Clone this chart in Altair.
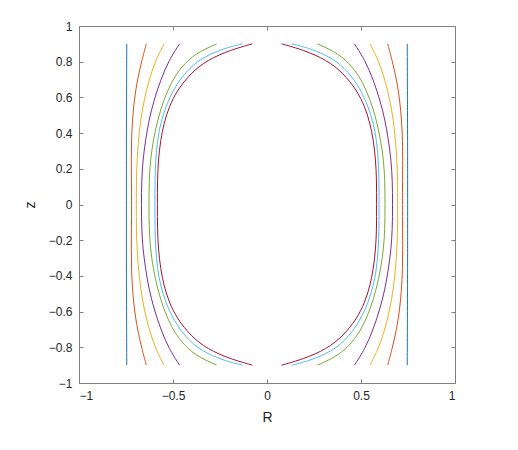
import altair as alt
import pandas as pd

# Upper-right quadrant of each curve (R, z) (outermost first)
series_names = ["c1", "c2", "c3", "c4", "c5", "c6", "c7"]
colors = ["#1a78a8", "#D95319", "#EDB120", "#7E2F8E", "#77AC30", "#4DBEEE", "#A2142F"]

R_c1 = [0.746, 0.747, 0.748, 0.748, 0.748]
z_c1 = [0.90, 0.60, 0.30, 0.137, 0.0]

R_c2 = [0.642, 0.665, 0.690, 0.706, 0.716, 0.721, 0.722, 0.721, 0.720]
z_c2 = [0.90, 0.81, 0.697, 0.585, 0.473, 0.361, 0.249, 0.137, 0.0]

R_c3 = [0.548, 0.592, 0.628, 0.654, 0.672, 0.684, 0.691, 0.695, 0.695]
z_c3 = [0.90, 0.81, 0.697, 0.585, 0.473, 0.361, 0.249, 0.137, 0.0]

R_c4 = [0.465, 0.521, 0.566, 0.601, 0.628, 0.646, 0.660, 0.667, 0.668]
z_c4 = [0.90, 0.81, 0.697, 0.585, 0.473, 0.361, 0.249, 0.137, 0.0]

R_c5 = [0.268, 0.380, 0.455, 0.508, 0.550, 0.582, 0.605, 0.620, 0.627, 0.628]
z_c5 = [0.90, 0.847, 0.772, 0.688, 0.585, 0.473, 0.361, 0.249, 0.137, 0.0]

R_c6 = [0.131, 0.229, 0.353, 0.432, 0.495, 0.539, 0.566, 0.583, 0.592, 0.596, 0.596]
z_c6 = [0.90, 0.875, 0.819, 0.744, 0.651, 0.548, 0.455, 0.361, 0.249, 0.137, 0.0]

R_c7 = [0.078, 0.193, 0.318, 0.406, 0.477, 0.521, 0.548, 0.566, 0.578, 0.583, 0.583]
z_c7 = [0.90, 0.866, 0.810, 0.735, 0.641, 0.548, 0.455, 0.361, 0.249, 0.137, 0.0]

x_ticks = [-1, -0.5, 0, 0.5, 1]
y_ticks = [-1, -0.8, -0.6, -0.4, -0.2, 0, 0.2, 0.4, 0.6, 0.8, 1]

quadrants = {
    "c1": (R_c1, z_c1), "c2": (R_c2, z_c2), "c3": (R_c3, z_c3), "c4": (R_c4, z_c4),
    "c5": (R_c5, z_c5), "c6": (R_c6, z_c6), "c7": (R_c7, z_c7),
}

rows = []
for name in series_names:
    Rq, zq = quadrants[name]
    # full right-hand curve: top -> middle -> bottom (mirror in z)
    Rs = list(Rq) + list(reversed(Rq[:-1]))
    zs = list(zq) + [-v for v in reversed(zq[:-1])]
    for side, sgn in (("right", 1), ("left", -1)):
        for i, (r, z) in enumerate(zip(Rs, zs)):
            rows.append({"series": name, "side": side, "R": sgn * r, "z": z, "ord": i})
df = pd.DataFrame(rows)

axis_color = "#808080"
label_color = "#262626"
font = "Liberation Sans"

xscale = alt.Scale(domain=[-1, 1], nice=False, zero=False)
yscale = alt.Scale(domain=[-1, 1], nice=False, zero=False)

common_axis = dict(domain=False, grid=False, tickSize=4, offset=-4, tickColor=axis_color,
                   labelColor=label_color, labelFont=font, labelFontSize=12,
                   titleColor=label_color, titleFont=font, titleFontSize=14,
                   titleFontWeight="normal")

lines = alt.Chart(df).mark_line(strokeWidth=1, interpolate="basis").encode(
    x=alt.X("R:Q", scale=xscale,
            axis=alt.Axis(values=x_ticks, title="R", labelPadding=7, titlePadding=9,
                          labelExpr="format(datum.value, '')",
                          **common_axis)),
    y=alt.Y("z:Q", scale=yscale,
            axis=alt.Axis(values=y_ticks, title="z", labelPadding=7, titlePadding=11,
                          labelExpr="format(datum.value, '')",
                          **common_axis)),
    color=alt.Color("series:N", scale=alt.Scale(domain=series_names, range=colors), legend=None),
    detail="side:N",
    order="ord:Q",
)

mirror = alt.Chart(df).mark_line(opacity=0).encode(
    x=alt.X("R:Q", scale=xscale,
            axis=alt.Axis(values=x_ticks, orient="top", labels=False, title=None,
                          domain=False, grid=False, tickSize=4, offset=-4, tickColor=axis_color)),
    y=alt.Y("z:Q", scale=yscale,
            axis=alt.Axis(values=y_ticks, orient="right", labels=False, title=None,
                          domain=False, grid=False, tickSize=4, offset=-4, tickColor=axis_color)),
    detail="series:N",
)

chart = alt.layer(lines, mirror).resolve_axis(x="independent", y="independent").properties(
    width=376, height=357,
    autosize=alt.AutoSizeParams(type="none"),
    padding={"left": 71, "top": 18, "right": 55, "bottom": 50},
    background="white",
).configure_view(stroke=axis_color, strokeWidth=1)

chart.save("out.html", embed_options={"renderer": "svg", "actions": False})
